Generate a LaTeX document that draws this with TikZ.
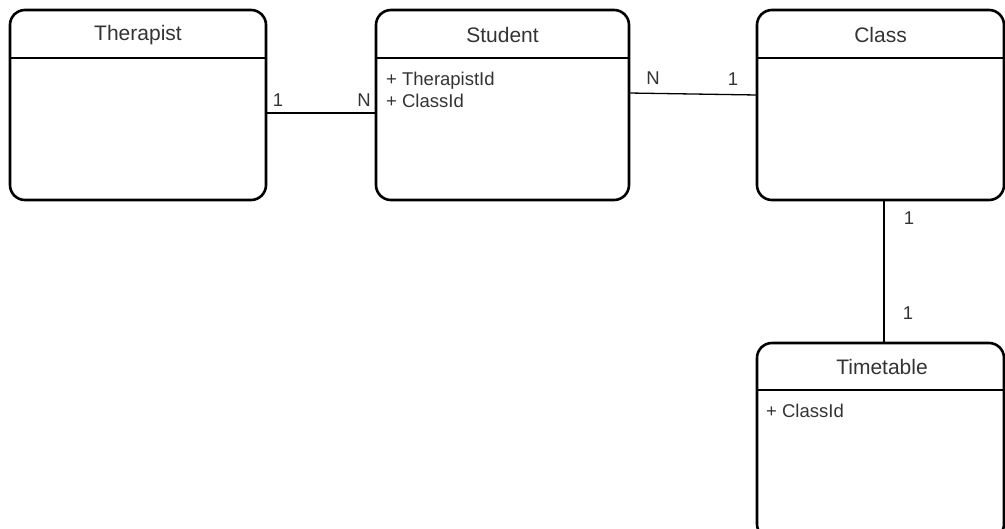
\documentclass[tikz,border=0pt]{standalone}
\usepackage{fontspec}
\setmainfont{Liberation Sans}
\definecolor{txt}{HTML}{333333}
\tikzset{
  entity/.style={draw=black, line width=2.6pt, rounded corners=15pt, inner sep=0pt, outer sep=0pt},
  divider/.style={draw=black, line width=2.6pt},
  title/.style={text=txt, font=\fontsize{21}{24}\selectfont, inner sep=0pt},
  attr/.style={text=txt, font=\fontsize{18.5}{21}\selectfont, inner sep=0pt, anchor=west, align=left},
  card/.style={text=txt, font=\fontsize{18.5}{21}\selectfont, inner sep=0pt},
  conn/.style={draw=black, line width=1.3pt}
}
\begin{document}
\begin{tikzpicture}[x=1pt, y=-1pt]
\useasboundingbox (0,0) rectangle (1005,528);
\clip (0,0) rectangle (1005,528);
% entities
\node[entity, minimum width=256pt, minimum height=190pt] (ther) at (138,105) {};
\node[entity, minimum width=253pt, minimum height=190pt] (stud) at (502.5,105) {};
\node[entity, minimum width=247pt, minimum height=190pt] (cls) at (880.5,105) {};
\node[entity, minimum width=247pt, minimum height=196pt] (tt) at (880.5,441) {};
% dividers
\draw[divider] (ther.west |- 0,58) -- (ther.east |- 0,58);
\draw[divider] (stud.west |- 0,58) -- (stud.east |- 0,58);
\draw[divider] (cls.west |- 0,58) -- (cls.east |- 0,58);
\draw[divider] (tt.west |- 0,390) -- (tt.east |- 0,390);
% titles
\node[title] (therT) at (138,35) {Therapist};
\node[title] (studT) at (502.5,35) {Student};
\node[title] (clsT) at (880.5,35) {Class};
\node[title] (ttT) at (882,367) {Timetable};
% attributes
\node[attr] (studA) at (386,90) {+ TherapistId\\[1pt]+ ClassId};
\node[attr] (ttA) at (766,411) {+ ClassId};
% connectors
\draw[conn] (ther.east |- 0,113) -- (stud.west |- 0,113);
\draw[conn] (stud.east |- 0,93) -- (cls.west |- 0,95);
\draw[conn] (cls.south -| 884,0) -- (tt.north -| 884,0);
% cardinalities
\node[card] (c1) at (278,100) {1};
\node[card] (c2) at (364,100) {N};
\node[card] (c3) at (653,78) {N};
\node[card] (c4) at (733,79) {1};
\node[card] (c5) at (909,218) {1};
\node[card] (c6) at (908,313) {1};
\end{tikzpicture}
\end{document}
